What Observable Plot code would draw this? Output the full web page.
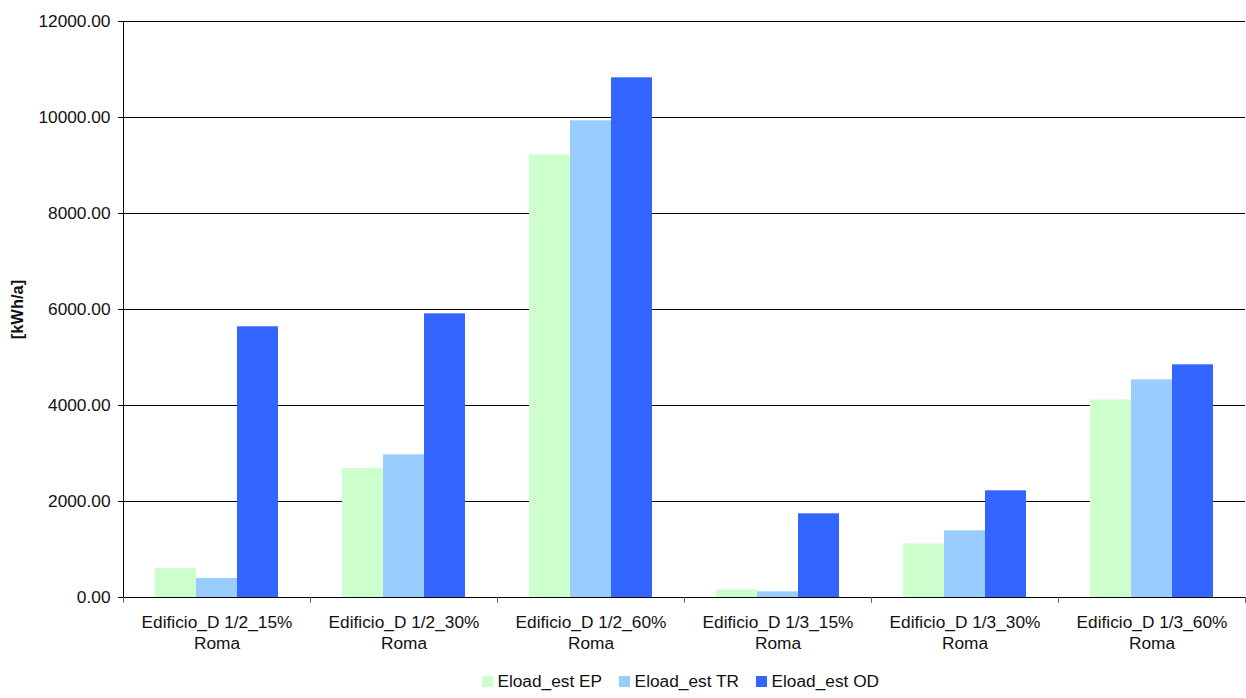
<!DOCTYPE html>
<html>
<head>
<meta charset="utf-8">
<script src="https://cdn.jsdelivr.net/npm/d3@7"></script>
<script src="https://cdn.jsdelivr.net/npm/@observablehq/plot@0.6"></script>
<style>
  html, body { margin: 0; padding: 0; background: #fff; }
  body { width: 1246px; height: 698px; overflow: hidden; font-family: "Liberation Sans", Arial, sans-serif; }
  #legend { display: flex; justify-content: center; align-items: center; height: 34px; font-size: 17.3px; color: #111; padding-left: 115px; }
  #legend .item { display: flex; align-items: center; margin: 0 8.5px; }
  #legend .sw { width: 11px; height: 11px; margin-right: 4.5px; }
</style>
</head>
<body>
<div id="chart"></div>
<div id="legend"></div>
<script>
const categories = [
  "Edificio_D 1/2_15%\nRoma",
  "Edificio_D 1/2_30%\nRoma",
  "Edificio_D 1/2_60%\nRoma",
  "Edificio_D 1/3_15%\nRoma",
  "Edificio_D 1/3_30%\nRoma",
  "Edificio_D 1/3_60%\nRoma"
];
const seriesNames = ["Eload_est EP", "Eload_est TR", "Eload_est OD"];
const seriesColors = ["#CCFFCC", "#99CCFF", "#3366FF"];
const valuesEP = [604, 2688, 9223, 160, 1118, 4118];
const valuesTR = [396, 2973, 9931, 117, 1389, 4535];
const valuesOD = [5640, 5910, 10827, 1744, 2223, 4848];
const yTicks = [0, 2000, 4000, 6000, 8000, 10000, 12000];
const yLabel = "[kWh/a]";

const seriesValues = [valuesEP, valuesTR, valuesOD];
const rows = [];
categories.forEach((c, i) => {
  seriesNames.forEach((s, j) => rows.push({cat: c, series: s, value: seriesValues[j][i]}));
});

const tickShape = {draw(context, l) { context.moveTo(0, 0); context.lineTo(0, -l); }};

const chart = Plot.plot({
  width: 1246,
  height: 664,
  marginTop: 21,
  marginBottom: 67,
  marginLeft: 122,
  marginRight: 0,
  style: {fontFamily: "'Liberation Sans', Arial, sans-serif", fontSize: "17px", color: "#111", background: "#fff"},
  fx: {domain: categories, paddingInner: 0, paddingOuter: 0, axis: null, label: null},
  x: {domain: seriesNames, paddingInner: 0, paddingOuter: 0.75, axis: null, label: null},
  y: {domain: [0, 12000], axis: null},
  color: {domain: seriesNames, range: seriesColors},
  marks: [
    Plot.gridY(yTicks, {stroke: "#000", strokeOpacity: 1, strokeWidth: 1}),
    Plot.barY(rows, {fx: "cat", x: "series", y: "value", fill: "series"}),
    Plot.axisY(yTicks, {tickFormat: d => d.toFixed(2), tickSize: 5, tickPadding: 8, fontSize: 17.3, stroke: "#000", label: null}),
    Plot.axisY([], {label: yLabel, labelAnchor: "center", labelArrow: "none", labelOffset: 112, fontWeight: "bold", fontSize: 16.5, tickSize: 0}),
    Plot.frame({anchor: "left", facet: "super", stroke: "#000"}),
    Plot.frame({anchor: "bottom", facet: "super", stroke: "#000"}),
    Plot.vector(categories, {fx: d => d, frameAnchor: "bottom-left", length: 5, rotate: 180, anchor: "start", shape: tickShape, stroke: "#666", strokeWidth: 1}),
    Plot.vector([categories[categories.length - 1]], {fx: d => d, frameAnchor: "bottom-right", length: 5, rotate: 180, anchor: "start", shape: tickShape, stroke: "#666", strokeWidth: 1}),
    Plot.text(categories, {fx: d => d, text: d => d, frameAnchor: "bottom", lineAnchor: "top", dy: 15, lineHeight: 1.25, fontSize: 17.3, fill: "#111"})
  ]
});
document.getElementById("chart").appendChild(chart);

const legend = document.getElementById("legend");
seriesNames.forEach((s, j) => {
  const item = document.createElement("div");
  item.className = "item";
  const sw = document.createElement("div");
  sw.className = "sw";
  sw.style.background = seriesColors[j];
  const t = document.createElement("span");
  t.textContent = s;
  item.appendChild(sw);
  item.appendChild(t);
  legend.appendChild(item);
});
</script>
</body>
</html>
